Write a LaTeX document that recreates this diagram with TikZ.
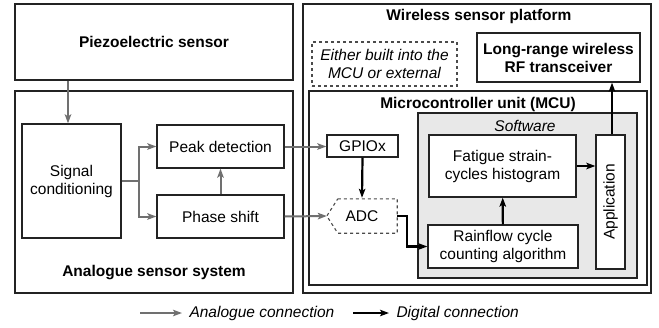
\documentclass[tikz,border=0pt]{standalone}
\usepackage{fontspec}
\setmainfont{Liberation Sans}
\usetikzlibrary{arrows.meta}
\definecolor{anagray}{RGB}{112,112,112}
\definecolor{boxline}{RGB}{35,35,35}
\definecolor{dashline}{RGB}{75,75,75}
\definecolor{softfill}{RGB}{232,232,232}

\tikzset{
  every node/.style={font=\fontsize{15.5}{18}\selectfont},
  box/.style={draw=boxline, fill=white, line width=1.3pt, inner sep=0pt, align=center},
  title/.style={font=\fontsize{15.5}{18}\selectfont\bfseries, align=center},
  ana/.style={draw=anagray, line width=2pt, -{Stealth[length=9pt,width=6.5pt,inset=2pt]}},
  dig/.style={draw=black, line width=2.2pt, -{Stealth[length=9pt,width=6.5pt,inset=2pt]}},
  anaseg/.style={draw=anagray, line width=2pt}
}

\begin{document}
\begin{tikzpicture}[x=1pt,y=-1pt]
    \useasboundingbox (0,0) rectangle (659,327);
    % analogue side
    \node[box, minimum width=278pt, minimum height=76pt] (piezo) at (154,42) {\bfseries Piezoelectric sensor};
    \node[box, minimum width=278pt, minimum height=202pt] (analog) at (154,192) {};
    \node[title] (analogtitle) at (154,273) {Analogue sensor system};
    \node[box, minimum width=99pt, minimum height=114pt] (sigcond) at (71.5,181) {Signal\\conditioning};
    \node[box, minimum width=127pt, minimum height=43pt] (peak) at (220.5,146.5) {Peak detection};
    \node[box, minimum width=127pt, minimum height=43pt] (phase) at (220.5,216.5) {Phase shift};
    % wireless side
    \node[box, minimum width=348pt, minimum height=289pt] (platform) at (477,148.5) {};
    \node[title] (platformtitle) at (479,16) {Wireless sensor platform};
    \node[box, dashed, draw=dashline, line width=1.1pt, minimum width=145pt, minimum height=44pt] (either) at (384.5,64) {\itshape Either built into the\\\itshape MCU or external};
    \node[box, minimum width=163pt, minimum height=49pt] (rf) at (558.5,57.5) {\bfseries Long-range wireless\\\bfseries RF transceiver};
    \node[box, minimum width=338pt, minimum height=194pt] (mcu) at (478,188) {};
    \node[title] (mcutitle) at (478,104) {Microcontroller unit (MCU)};
    \node[box, fill=softfill, minimum width=219pt, minimum height=165pt] (soft) at (527.5,195.5) {};
    \node (softtitle) at (525,126) {\itshape Software};
    \node[box, minimum width=71pt, minimum height=22pt] (gpio) at (362.5,146) {GPIOx};
    \node[inner sep=0pt, minimum width=70pt, minimum height=34pt] (adc) at (362,216) {ADC};
    \draw[dashline, dashed, line width=1.1pt] ([xshift=11pt]adc.north west) -- (adc.north east) -- (adc.south east)
        -- ([xshift=11pt]adc.south west) -- (adc.west) -- cycle;
    \node[box, minimum width=147pt, minimum height=62pt] (fatigue) at (502.5,166) {Fatigue strain-\\cycles histogram};
    \node[box, minimum width=150pt, minimum height=43pt] (rainflow) at (503,246.5) {Rainflow cycle\\counting algorithm};
    \node[box, minimum width=29pt, minimum height=134pt] (app) at (610.5,202) {};
    \node[rotate=90] (apptext) at (app) {Application};
    % connections
    \coordinate (split) at (139,181);
    \draw[ana] ([xshift=-3.5pt]sigcond.north |- piezo.south) -- ([xshift=-3.5pt]sigcond.north);
    \draw[anaseg] (sigcond.east) -- (split);
    \draw[ana] (split) |- (peak.west);
    \draw[ana] (split) |- (phase.west);
    \draw[ana] (phase) -- (peak);
    \draw[ana] (peak.east) -- (peak.east -| gpio.west);
    \draw[ana] (phase.east) -- (adc.west);
    \draw[dig] (gpio.south) -- ([yshift=1pt]adc.north);
    \draw[dig] (adc.east) -- ++(10,0) |- (rainflow.west);
    \draw[dig] (rainflow) -- (fatigue);
    \draw[dig] (fatigue.east) -- (fatigue.east -| app.west);
    \draw[dig] ([xshift=1.5pt]app.north) -- ([xshift=1.5pt]app.north |- rf.south);
    % legend
    \node[anchor=west] (lana) at (186,313) {\itshape Analogue connection};
    \node[anchor=west] (ldig) at (393,313) {\itshape Digital connection};
    \coordinate (lanastart) at (140,313);
    \coordinate (ldigstart) at (353,313);
    \draw[ana] (lanastart) -- ([xshift=-4pt]lana.west);
    \draw[dig] (ldigstart) -- ([xshift=-4pt]ldig.west);
\end{tikzpicture}
\end{document}
